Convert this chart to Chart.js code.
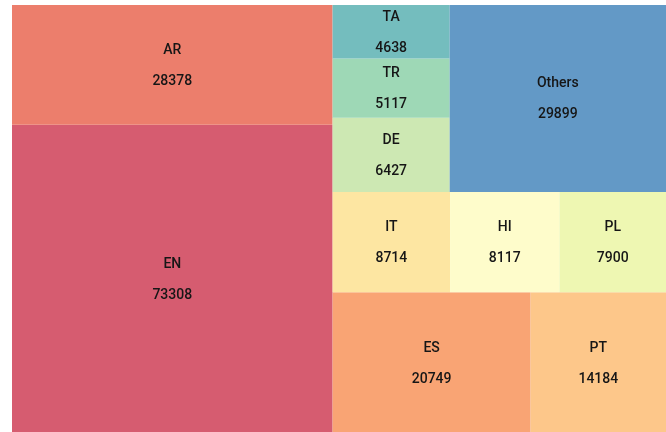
<!DOCTYPE html>
<html>
<head>
<meta charset="utf-8">
<script src="https://cdn.jsdelivr.net/npm/chart.js@4/dist/chart.umd.min.js"></script>
<style>
  html, body { margin: 0; padding: 0; background: #ffffff; overflow: hidden; }
  #wrap { width: 666px; height: 432px; position: relative; overflow: hidden; }
  #c { position: absolute; left: 0; top: 0; }
</style>
</head>
<body>
<div id="wrap"><canvas id="c" width="666" height="434"></canvas></div>
<script>
// ---- data ----
const categories = ['EN', 'AR', 'ES', 'PT', 'IT', 'HI', 'PL', 'DE', 'TR', 'TA', 'Others'];
const counts = [73308, 28378, 20749, 14184, 8714, 8117, 7900, 6427, 5117, 4638, 29899];
const colors = ['#d65c70', '#ec7e6c', '#f9a474', '#fdc78a', '#fde6a2', '#fefccb', '#eef7b2', '#cde8b3', '#9ed8b6', '#74bdbe', '#6399c6'];

// layout space (data units) used by the squarify algorithm
const LAYOUT_W = 1.14;
const LAYOUT_H = 1;

function worst(row, len) {
  let s = 0, mx = -Infinity, mn = Infinity;
  for (const a of row) { s += a; if (a > mx) mx = a; if (a < mn) mn = a; }
  const l2 = len * len;
  return Math.max(l2 * mx / (s * s), (s * s) / (l2 * mn));
}

function squarify(values, rect) {
  const total = values.reduce((a, b) => a + b, 0);
  const k = rect.w * rect.h / total;
  const areas = values.map(v => v * k);
  const out = new Array(values.length);
  const r = { x: rect.x, y: rect.y, w: rect.w, h: rect.h };
  let i = 0;
  while (i < areas.length) {
    const len = Math.min(r.w, r.h);
    const row = [areas[i]];
    let j = i + 1;
    while (j < areas.length && worst(row.concat([areas[j]]), len) <= worst(row, len)) {
      row.push(areas[j]);
      j++;
    }
    const s = row.reduce((a, b) => a + b, 0);
    if (r.w >= r.h) {
      const t = s / r.h;
      let y = r.y;
      row.forEach((a, m) => {
        const h = a / t;
        out[i + m] = { x0: r.x, x1: r.x + t, y0: y, y1: y + h };
        y += h;
      });
      r.x += t; r.w -= t;
    } else {
      const t = s / r.w;
      let x = r.x;
      row.forEach((a, m) => {
        const w = a / t;
        out[i + m] = { x0: x, x1: x + w, y0: r.y, y1: r.y + t };
        x += w;
      });
      r.y += t; r.h -= t;
    }
    i = j;
  }
  return out;
}

class TreemapController extends Chart.DatasetController {
  update(mode) {
    const meta = this._cachedMeta;
    this.updateElements(meta.data, 0, meta.data.length, mode);
  }
  updateElements(rects, start, count, mode) {
    const meta = this._cachedMeta;
    const xs = meta.xScale, ys = meta.yScale;
    const ds = this.getDataset();
    const cells = squarify(ds.data, { x: 0, y: 0, w: LAYOUT_W, h: LAYOUT_H });
    for (let i = start; i < start + count; i++) {
      const c = cells[i];
      const left = xs.getPixelForValue(c.x0);
      const right = xs.getPixelForValue(c.x1);
      const top = ys.getPixelForValue(c.y1);
      const bottom = ys.getPixelForValue(c.y0);
      Object.assign(rects[i], {
        x: (left + right) / 2,
        y: top,
        base: bottom,
        width: right - left,
        height: bottom - top,
        horizontal: false,
        borderSkipped: {},
        inflateAmount: 0,
        options: this.resolveDataElementOptions(i, mode)
      });
    }
  }
  draw() {
    super.draw();
    const ctx = this.chart.ctx;
    const meta = this._cachedMeta;
    const ds = this.getDataset();
    ctx.save();
    ctx.fillStyle = '#161616';
    ctx.font = '500 14px Roboto';
    ctx.textAlign = 'center';
    ctx.textBaseline = 'middle';
    meta.data.forEach((el, i) => {
      const cx = el.x;
      const cy = (el.y + el.base) / 2;
      ctx.fillText(ds.labels[i], cx, cy - 14.5);
      ctx.fillText(String(ds.data[i]), cx, cy + 16.5);
    });
    ctx.restore();
  }
}
TreemapController.id = 'treemap';
TreemapController.defaults = { datasetElementType: false, dataElementType: 'bar' };
Chart.register(TreemapController);

new Chart(document.getElementById('c'), {
  type: 'treemap',
  data: {
    labels: categories,
    datasets: [{
      label: 'Count',
      labels: categories,
      data: counts,
      backgroundColor: colors,
      borderWidth: 0
    }]
  },
  options: {
    responsive: false,
    animation: false,
    events: [],
    layout: { padding: { left: 12, top: 5, right: 0, bottom: 0 } },
    scales: {
      x: { type: 'linear', display: false, min: 0, max: LAYOUT_W },
      y: { type: 'linear', display: false, min: 0, max: LAYOUT_H }
    },
    plugins: {
      legend: { display: false },
      tooltip: { enabled: false },
      title: { display: false }
    }
  }
});
</script>
</body>
</html>
